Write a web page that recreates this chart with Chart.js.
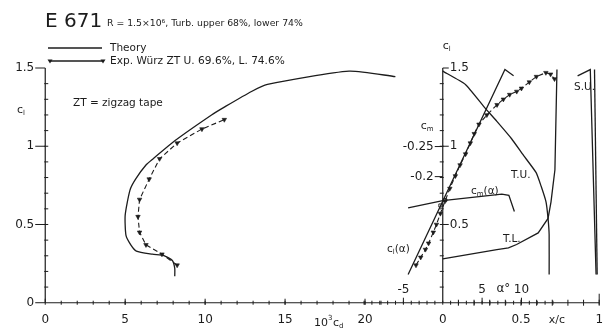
<!DOCTYPE html>
<html>
<head>
<meta charset="utf-8">
<script src="https://cdn.jsdelivr.net/npm/chart.js@4.4.1/dist/chart.umd.min.js"></script>
<style>
  html, body { margin: 0; padding: 0; background: #fff; }
  #wrap { width: 610px; height: 328px; }
</style>
</head>
<body>
<div id="wrap"><canvas id="polar" width="610" height="328"></canvas></div>
<script>
// E 671 polar: left panel cl vs 10^3 cd, right panel cl(alpha), cm(alpha), transition x/c

// left panel - drag polar
const polarTheoryCd = [8.1, 8.1, 7.95, 7.45, 6.7, 5.7, 5.35, 5.05, 5.0, 5.3, 5.65, 6.3, 6.75, 8.1, 10.4, 11.2, 12.9, 13.9, 19.0, 21.9];
const polarTheoryCl = [0.17, 0.22, 0.27, 0.30, 0.31, 0.33, 0.37, 0.43, 0.56, 0.72, 0.79, 0.88, 0.92, 1.035, 1.20, 1.25, 1.35, 1.395, 1.48, 1.445];
const polarExpCd = [8.25, 7.3, 6.3, 5.9, 5.8, 5.9, 6.5, 7.15, 8.25, 9.8, 11.2];
const polarExpCl = [0.24, 0.31, 0.37, 0.45, 0.55, 0.66, 0.79, 0.92, 1.02, 1.11, 1.17];

// right panel - lift and moment vs alpha
const liftTheoryAlpha = [-4.4, 7.9, 9.0];
const liftTheoryCl = [0.18, 1.49, 1.45];
const liftExpAlpha = [-3.4, -2.8, -2.2, -1.8, -1.2, -0.8, -0.3, 0.3, 0.9, 1.6, 2.2, 2.9, 3.5, 4.0, 4.6, 5.6, 6.9, 7.7, 8.5, 9.4, 10.0, 11.0, 11.9, 13.1, 13.7, 14.2];
const liftExpCl = [0.24, 0.29, 0.34, 0.38, 0.45, 0.50, 0.57, 0.65, 0.73, 0.81, 0.88, 0.95, 1.02, 1.08, 1.14, 1.20, 1.265, 1.30, 1.33, 1.35, 1.37, 1.41, 1.445, 1.47, 1.46, 1.43];
const momentAlpha = [-4.4, 0, 7.5, 8.4, 9.1];
const momentCm = [-0.148, -0.160, -0.171, -0.169, -0.142];
const momentExpAlpha = [-0.3, 0.3];
const momentExpCm = [-0.152, -0.161];

// right panel - transition / separation vs x/c
const tuXc = [0, 0.145, 0.264, 0.346, 0.44, 0.516, 0.597, 0.629, 0.66, 0.673, 0.68, 0.68];
const tuCl = [1.48, 1.395, 1.252, 1.159, 1.048, 0.942, 0.831, 0.744, 0.645, 0.539, 0.434, 0.18];
const tlXc = [0, 0.346, 0.42, 0.472, 0.61, 0.673, 0.692, 0.704, 0.717, 0.73];
const tlCl = [0.28, 0.34, 0.35, 0.372, 0.446, 0.539, 0.645, 0.744, 0.85, 1.49];
const suXc = [0.862, 0.943, 0.98];
const suCl = [1.45, 1.49, 0.18];
const su2Xc = [0.97, 0.987];
const su2Cl = [1.49, 0.18];

// tick labels
const cdTicks = [0, 5, 10, 15, 20];
const clTicks = [0, 0.5, 1, 1.5];
const clTicksRight = [0.5, 1, 1.5];
const alphaTicks = [-5, 5, 10];
const xcTicks = [0, 0.5, 1];
const cmTicks = [-0.25, -0.2];

const INK = '#1c1c1c';
const FONT = '"DejaVu Sans", "Noto Sans", sans-serif';
const font = (size, weight) => (weight || '') + ' ' + size + 'px ' + FONT;
const zip = (xs, ys) => xs.map((x, i) => ({ x, y: ys[i] }));

function solid(data, xAxisID, yAxisID, tension) {
    return { data, xAxisID, yAxisID, showLine: true, borderColor: INK, borderWidth: 1.3, pointRadius: 0, tension: tension || 0 };
}
function dashed(data, xAxisID, yAxisID) {
    return {
        data, xAxisID, yAxisID, showLine: true, borderColor: INK, borderWidth: 1.1, borderDash: [5, 3],
        pointStyle: 'triangle', rotation: 180, pointRadius: 2.6, pointBackgroundColor: INK, pointBorderColor: INK, pointBorderWidth: 0.6
    };
}

function label(ctx, text, x, y, size, align) {
    ctx.font = font(size);
    ctx.textAlign = align || 'left';
    ctx.fillText(text, x, y);
}
// base letter with subscript, returns end x
function sub(ctx, base, s, x, y, size) {
    ctx.textAlign = 'left';
    ctx.font = font(size);
    ctx.fillText(base, x, y);
    const w = ctx.measureText(base).width;
    ctx.font = font(Math.round(size * 0.65));
    ctx.fillText(s, x + w, y + size * 0.3);
    return x + w + ctx.measureText(s).width;
}

const axesArt = {
    id: 'axesArt',
    afterDraw(chart) {
        const ctx = chart.ctx;
        const S = chart.scales;
        const xcd = (v) => S.xcd.getPixelForValue(v);
        const xa = (v) => S.xa.getPixelForValue(v);
        const xc = (v) => S.xc.getPixelForValue(v);
        const ycl = (v) => S.ycl.getPixelForValue(v);
        const ycm = (v) => S.ycm.getPixelForValue(v);

        ctx.save();
        ctx.strokeStyle = INK;
        ctx.fillStyle = INK;
        ctx.lineWidth = 1.2;
        const seg = (x1, y1, x2, y2) => { ctx.beginPath(); ctx.moveTo(x1, y1); ctx.lineTo(x2, y2); ctx.stroke(); };

        const y0 = ycl(0), yTop = ycl(1.5);
        const xL = xcd(0), xR = xc(0);

        // axes lines
        seg(xL, y0, xL, yTop);
        seg(xL, y0, xc(1), y0);
        seg(xR, y0, xR, yTop);

        // left cl axis ticks
        ctx.lineWidth = 1;
        for (let i = 1; i < 15; i++) seg(xL - 1, ycl(i / 10), xL + 3, ycl(i / 10));
        clTicks.forEach((v) => seg(xL - 10, ycl(v), xL, ycl(v)));
        ctx.textBaseline = 'middle';
        clTicks.forEach((v) => label(ctx, String(v), xL - 11, ycl(v), 12, 'right'));

        // right cl / cm axis ticks
        for (let i = 1; i < 15; i++) seg(xR - 3, ycl(i / 10), xR + 1, ycl(i / 10));
        clTicksRight.forEach((v) => seg(xR, ycl(v), xR + 6, ycl(v)));
        clTicksRight.forEach((v) => label(ctx, String(v), xR + 7, ycl(v), 12, 'left'));
        cmTicks.forEach((v) => seg(xR - 8, ycm(v), xR, ycm(v)));
        cmTicks.forEach((v) => label(ctx, String(v), xR - 9, ycm(v), 12, 'right'));

        // bottom axis ticks: cd, alpha, x/c
        for (let i = 1; i <= 21; i++) seg(xcd(i), y0 - 2, xcd(i), y0 + 2);
        cdTicks.forEach((v) => seg(xcd(v), y0 - 4, xcd(v), y0 + 2));
        for (let a = -10; a <= 14; a++) seg(xa(a), y0 - 2, xa(a), y0 + 2);
        alphaTicks.forEach((v) => seg(xa(v), y0 - 5, xa(v), y0 + 1));
        for (let i = 1; i <= 10; i++) seg(xc(i / 10), y0 - 3, xc(i / 10), y0 + 3);
        seg(xc(1), y0 - 9, xc(1), y0 + 2);

        cdTicks.forEach((v) => label(ctx, String(v), xcd(v), 320, 12, 'center'));
        xcTicks.forEach((v) => label(ctx, String(v), xc(v), 320, 12, 'center'));
        alphaTicks.forEach((v) => label(ctx, String(v), xa(v), 290, 12, 'center'));
        label(ctx, 'α°', xa(7.7), 289, 12, 'center');
        label(ctx, 'x/c', xc(0.73), 320, 11, 'center');

        // axis names
        sub(ctx, 'c', 'l', 17, 110, 11);
        sub(ctx, 'c', 'l', xR, 46, 11);
        sub(ctx, 'c', 'm', xR - 22, 126, 11);
        ctx.textAlign = 'left';
        ctx.font = font(11);
        ctx.fillText('10', 314, 323);
        let w = ctx.measureText('10').width;
        ctx.font = font(7);
        ctx.fillText('3', 314 + w, 318);
        sub(ctx, 'c', 'd', 314 + w + 5, 323, 11);

        // curve labels
        let e = sub(ctx, 'c', 'l', 387, 249, 10.5);
        label(ctx, '(α)', e, 249, 10.5, 'left');
        e = sub(ctx, 'c', 'm', 471, 191, 10.5);
        label(ctx, '(α)', e, 191, 10.5, 'left');
        label(ctx, 'T.U.', 511, 175, 10.5, 'left');
        label(ctx, 'T.L.', 503, 239, 10.5, 'left');
        label(ctx, 'S.U.', 574, 87, 10.5, 'left');
        label(ctx, 'ZT = zigzag tape', 73, 103, 10.5, 'left');

        // title and legend
        ctx.textBaseline = 'alphabetic';
        label(ctx, 'E 671', 45, 27, 20, 'left');
        label(ctx, 'R = 1.5×10⁶, Turb. upper 68%, lower 74%', 107, 26, 9.3, 'left');
        ctx.textBaseline = 'middle';
        ctx.lineWidth = 1.3;
        seg(48, 48, 102, 48);
        label(ctx, 'Theory', 110, 48, 10.5, 'left');
        seg(50, 61, 103, 61);
        [50, 103].forEach((x) => {
            ctx.beginPath();
            ctx.moveTo(x - 2.5, 59.5); ctx.lineTo(x + 2.5, 59.5); ctx.lineTo(x, 63.5); ctx.closePath(); ctx.fill();
        });
        label(ctx, 'Exp. Würz ZT U. 69.6%, L. 74.6%', 110, 61, 10.6, 'left');
        ctx.restore();
    }
};

const chart = new Chart(document.getElementById('polar').getContext('2d'), {
    type: 'scatter',
    data: {
        datasets: [
            solid(zip(polarTheoryCd, polarTheoryCl), 'xcd', 'ycl', 0.2),
            dashed(zip(polarExpCd, polarExpCl), 'xcd', 'ycl'),
            solid(zip(liftTheoryAlpha, liftTheoryCl), 'xa', 'ycl'),
            dashed(zip(liftExpAlpha, liftExpCl), 'xa', 'ycl'),
            solid(zip(momentAlpha, momentCm), 'xa', 'ycm'),
            { data: zip(momentExpAlpha, momentExpCm), xAxisID: 'xa', yAxisID: 'ycm', pointStyle: 'rect', pointRadius: 2.2, pointBorderColor: INK, pointBackgroundColor: '#fff', pointBorderWidth: 0.9 },
            solid(zip(tuXc, tuCl), 'xc', 'ycl', 0.15),
            solid(zip(tlXc, tlCl), 'xc', 'ycl'),
            solid(zip(suXc, suCl), 'xc', 'ycl'),
            solid(zip(su2Xc, su2Cl), 'xc', 'ycl')
        ]
    },
    options: {
        responsive: false,
        animation: false,
        devicePixelRatio: 1,
        layout: { padding: 0 },
        plugins: { legend: { display: false }, tooltip: { enabled: false } },
        scales: {
            xcd: { type: 'linear', display: false, min: -2.523, max: 35.015 },
            xa: { type: 'linear', display: false, min: -55.625, max: 20.625 },
            xc: { type: 'linear', display: false, min: -2.7987, max: 1.0377 },
            ycl: { type: 'linear', display: false, min: -0.1302, max: 1.9033 },
            ycm: { type: 'linear', display: false, reverse: true, min: -0.4855, max: 0.04355 }
        }
    },
    plugins: [axesArt]
});
</script>
</body>
</html>
